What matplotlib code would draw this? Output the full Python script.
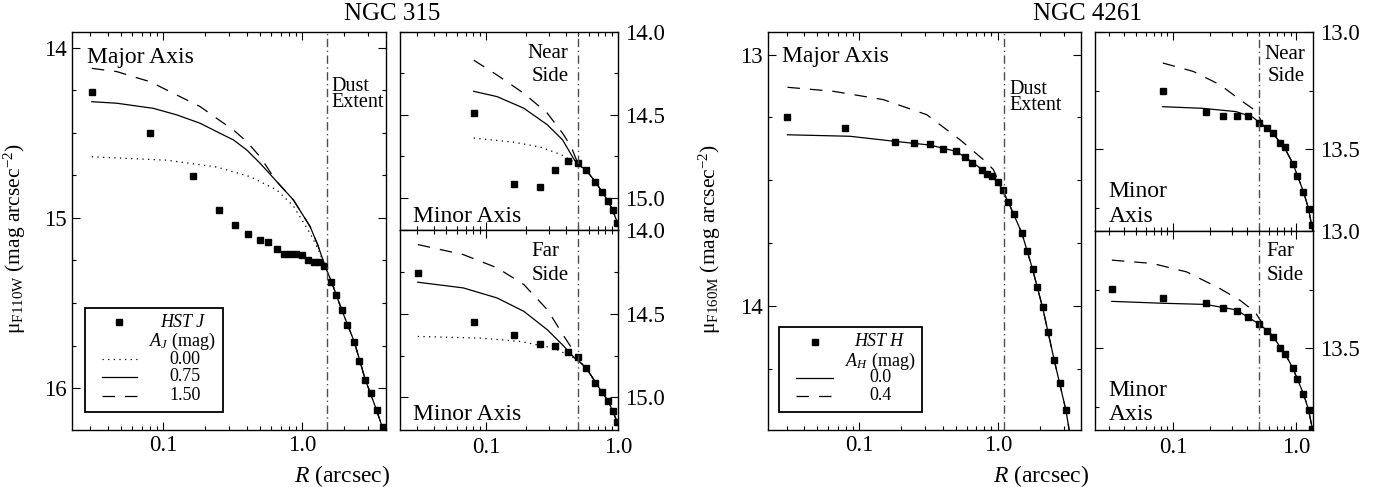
import numpy as np
import matplotlib
matplotlib.use('Agg')
import matplotlib.pyplot as plt
import matplotlib.ticker as mticker
from matplotlib.patches import Rectangle
from matplotlib.lines import Line2D

plt.rcParams['font.family'] = 'Liberation Serif'
plt.rcParams['mathtext.fontset'] = 'custom'
plt.rcParams['mathtext.rm'] = 'Liberation Serif'
plt.rcParams['mathtext.it'] = 'Liberation Serif:italic'
plt.rcParams['axes.linewidth'] = 1.0

# ---------------- NGC 315 ----------------
# major axis data (HST J)
r315_maj = [0.0307, 0.081, 0.163, 0.254, 0.331, 0.409, 0.497, 0.573, 0.664, 0.743, 0.820, 0.906,
            0.995, 1.11, 1.22, 1.32, 1.45, 1.62, 1.77, 1.93, 2.11, 2.38, 2.57, 2.85, 3.13, 3.44, 3.80]
mu315_maj = [14.26, 14.50, 14.753, 14.955, 15.043, 15.096, 15.13, 15.14, 15.185, 15.21, 15.21, 15.21,
             15.22, 15.25, 15.26, 15.26, 15.28, 15.375, 15.453, 15.543, 15.63, 15.73, 15.84, 15.95, 16.03, 16.13, 16.23]
# model curves, A_J = 0.00 / 0.75 / 1.50 (tail outside the dust is shared)
r315_tail = [1.62, 1.93, 2.38, 2.85, 3.44, 3.85]
mu315_tail = [15.37, 15.54, 15.73, 15.95, 16.13, 16.25]
r315_a000 = [0.0307, 0.106, 0.243, 0.423, 0.658, 0.867, 1.142, 1.30, 1.46]
mu315_a000 = [14.64, 14.66, 14.70, 14.757, 14.835, 14.93, 15.09, 15.18, 15.28]
r315_a075 = [0.0307, 0.0465, 0.085, 0.126, 0.185, 0.243, 0.321, 0.40, 0.499, 0.658, 0.867, 1.142, 1.30, 1.46]
mu315_a075 = [14.316, 14.325, 14.355, 14.394, 14.443, 14.492, 14.541, 14.60, 14.678, 14.786, 14.894, 15.05, 15.16, 15.28]
r315_a150 = [0.0307, 0.0465, 0.061, 0.0805, 0.106, 0.14, 0.185, 0.243, 0.321, 0.40, 0.499, 0.557, 0.62,
             0.658, 0.867, 1.142, 1.30, 1.46]
mu315_a150 = [14.12, 14.139, 14.169, 14.198, 14.247, 14.296, 14.345, 14.414, 14.482, 14.551, 14.64, 14.698, 14.757,
              14.786, 14.894, 15.05, 15.16, 15.28]

# minor axis, near side
r315_near = [0.0805, 0.162, 0.256, 0.333, 0.414, 0.494, 0.575, 0.675, 0.75, 0.839, 0.91, 0.984]
mu315_near = [14.49, 14.917, 14.933, 14.832, 14.778, 14.792, 14.832, 14.907, 14.966, 15.018, 15.075, 15.15]
r315_near_tail = [0.50, 0.575, 0.675, 0.75, 0.84, 0.91, 1.0]
mu315_near_tail = [14.80, 14.835, 14.905, 14.96, 15.02, 15.075, 15.16]
r315_near_a000 = [0.0805, 0.162, 0.259, 0.37, 0.466]
mu315_near_a000 = [14.64, 14.665, 14.695, 14.74, 14.786]
r315_near_a075 = [0.0805, 0.121, 0.193, 0.291, 0.379, 0.47]
mu315_near_a075 = [14.358, 14.39, 14.46, 14.56, 14.65, 14.776]
r315_near_a150 = [0.0805, 0.121, 0.193, 0.291, 0.379, 0.44]
mu315_near_a150 = [14.17, 14.26, 14.37, 14.49, 14.61, 14.69]

# minor axis, far side
r315_far = [0.0303, 0.0805, 0.162, 0.256, 0.333, 0.414, 0.494, 0.575, 0.675, 0.75, 0.839, 0.91, 0.984]
mu315_far = [14.256, 14.55, 14.628, 14.681, 14.692, 14.726, 14.76, 14.823, 14.915, 14.965, 15.02, 15.08, 15.15]
r315_far_tail = [0.50, 0.575, 0.675, 0.75, 0.84, 0.91, 1.0]
mu315_far_tail = [14.78, 14.825, 14.91, 14.965, 15.02, 15.08, 15.16]
r315_far_a000 = [0.0303, 0.09, 0.182, 0.327, 0.466]
mu315_far_a000 = [14.636, 14.646, 14.666, 14.706, 14.766]
r315_far_a075 = [0.0303, 0.067, 0.121, 0.193, 0.291, 0.39, 0.47]
mu315_far_a075 = [14.312, 14.346, 14.406, 14.486, 14.596, 14.696, 14.766]
r315_far_a150 = [0.0303, 0.067, 0.121, 0.193, 0.291, 0.39, 0.454]
mu315_far_a150 = [14.087, 14.147, 14.226, 14.326, 14.476, 14.636, 14.716]

# ---------------- NGC 4261 ----------------
r4261_maj = [0.0304, 0.0792, 0.180, 0.25, 0.324, 0.405, 0.50, 0.584, 0.655, 0.766, 0.832, 0.914, 1.0,
             1.087, 1.19, 1.30, 1.49, 1.62, 1.78, 1.93, 2.10, 2.30, 2.55, 2.83, 3.10]
mu4261_maj = [13.248, 13.292, 13.349, 13.353, 13.356, 13.376, 13.385, 13.406, 13.431, 13.458, 13.475, 13.485, 13.505,
              13.54, 13.587, 13.633, 13.71, 13.781, 13.854, 13.926, 14.005, 14.105, 14.215, 14.308, 14.416]
r4261_tail = [1.19, 1.49, 1.78, 2.10, 2.55, 3.10, 3.27]
mu4261_tail = [13.587, 13.71, 13.854, 14.005, 14.215, 14.416, 14.494]
r4261_a00 = [0.0304, 0.0857, 0.18, 0.324, 0.5, 0.655, 0.832, 1.0]
mu4261_a00 = [13.319, 13.325, 13.345, 13.36, 13.385, 13.428, 13.472, 13.505]
r4261_a04 = [0.0304, 0.065, 0.149, 0.307, 0.534, 0.787, 0.93, 1.0]
mu4261_a04 = [13.13, 13.146, 13.179, 13.239, 13.339, 13.418, 13.458, 13.50]

r4261_near = [0.0824, 0.1845, 0.2566, 0.333, 0.409, 0.503, 0.581, 0.654, 0.741, 0.818, 0.94, 1.025, 1.146, 1.26, 1.34]
mu4261_near = [13.25, 13.339, 13.359, 13.359, 13.359, 13.386, 13.41, 13.43, 13.472, 13.49, 13.56, 13.614, 13.68, 13.752, 13.82]
r4261_near_tail = [0.581, 0.654, 0.741, 0.818, 0.94, 1.025, 1.146, 1.26, 1.36]
mu4261_near_tail = [13.41, 13.435, 13.47, 13.50, 13.56, 13.612, 13.68, 13.752, 13.846]
r4261_near_a00 = [0.0825, 0.174, 0.325, 0.445, 0.503]
mu4261_near_a00 = [13.318, 13.325, 13.339, 13.363, 13.386]
r4261_near_a04 = [0.0825, 0.146, 0.241, 0.351, 0.479, 0.54]
mu4261_near_a04 = [13.132, 13.168, 13.225, 13.289, 13.339, 13.40]

r4261_far = [0.0318, 0.0824, 0.1845, 0.2566, 0.333, 0.409, 0.503, 0.581, 0.654, 0.741, 0.818, 0.94, 1.025, 1.146, 1.26, 1.34]
mu4261_far = [13.246, 13.285, 13.306, 13.327, 13.342, 13.366, 13.397, 13.424, 13.45, 13.498, 13.523, 13.584, 13.631, 13.692, 13.76, 13.84]
r4261_far_tail = [0.581, 0.654, 0.741, 0.818, 0.94, 1.025, 1.146, 1.26, 1.36]
mu4261_far_tail = [13.424, 13.45, 13.495, 13.525, 13.584, 13.631, 13.692, 13.76, 13.846]
r4261_far_a00 = [0.0318, 0.0825, 0.1845, 0.325, 0.503]
mu4261_far_a00 = [13.30, 13.308, 13.313, 13.336, 13.397]
r4261_far_a04 = [0.0318, 0.068, 0.129, 0.241, 0.351, 0.465, 0.54]
mu4261_far_a04 = [13.125, 13.139, 13.175, 13.246, 13.296, 13.346, 13.40]

dust = {'315_maj': 1.5, '315_min': 0.5, '4261_maj': 1.1, '4261_min': 0.5}

DOT = (0, (1, 3.5))
DASH = (0, (10, 8))
DUSTLS = (0, (6, 2.5, 1, 2.5))
LW = 0.9
LABEL_FS = 17     # "Major Axis" etc.
SIDE_FS = 15      # "Near Side", "Far Side"
DUST_FS = 14.5
LEG_FS = 13

W, H = 1382, 487
fig = plt.figure(figsize=(W / 100, H / 100), dpi=100)


def add_ax(x0, y0, x1, y1):
    # pixel box (y from top) -> figure fraction
    return fig.add_axes([x0 / W, 1 - y1 / H, (x1 - x0) / W, (y1 - y0) / H])


def setup(ax, xlim, ylim, ymaj, ymin, yfmt, right=False, xlabels=True):
    ax.set_xscale('log')
    ax.set_xlim(*xlim)
    ax.set_ylim(*ylim)
    ax.xaxis.set_major_locator(mticker.LogLocator(base=10))
    ax.xaxis.set_minor_locator(mticker.LogLocator(base=10, subs=np.arange(2, 10)))
    ax.xaxis.set_major_formatter(mticker.FuncFormatter(lambda v, p: '%.1f' % v))
    ax.xaxis.set_minor_formatter(mticker.NullFormatter())
    ax.yaxis.set_major_locator(mticker.MultipleLocator(ymaj))
    ax.yaxis.set_minor_locator(mticker.MultipleLocator(ymin))
    ax.yaxis.set_major_formatter(mticker.FormatStrFormatter(yfmt))
    ax.tick_params(which='both', direction='in', top=True, bottom=True, left=True, right=True,
                   labelsize=16.5, width=0.8)
    ax.tick_params(which='major', length=6)
    ax.tick_params(which='minor', length=3)
    if right:
        ax.tick_params(labelleft=False, labelright=True, pad=5)
    if not xlabels:
        ax.tick_params(labelbottom=False)


def curve(ax, r, mu, r_tail, mu_tail, ls):
    ax.plot(list(r) + list(r_tail), list(mu) + list(mu_tail), color='k', lw=LW, ls=ls)


def two_lines(ax, x, y1, y2, s1, s2, ha='left', size=LABEL_FS):
    ax.text(x, y1, s1, transform=ax.transAxes, ha=ha, va='baseline', fontsize=size)
    ax.text(x, y2, s2, transform=ax.transAxes, ha=ha, va='baseline', fontsize=size)


# ---------- NGC 315 major ----------
a1 = add_ax(72, 32, 386, 430)
setup(a1, (0.0221, 4.02), (16.247, 13.906), 1, 0.25, '%d')
a1.plot(r315_maj, mu315_maj, 's', color='k', ms=4.6)
curve(a1, r315_a000, mu315_a000, r315_tail, mu315_tail, DOT)
curve(a1, r315_a075, mu315_a075, r315_tail, mu315_tail, '-')
curve(a1, r315_a150, mu315_a150, r315_tail, mu315_tail, DASH)
a1.axvline(dust['315_maj'], color='0.3', lw=1, ls=DUSTLS)
a1.text(0.047, 0.923, 'Major Axis', transform=a1.transAxes, fontsize=LABEL_FS, va='baseline')
two_lines(a1, 0.827, 0.852, 0.811, 'Dust', 'Extent', size=DUST_FS)
a1.set_ylabel('μ$_{\\mathrm{F110W}}$ (mag arcsec$^{-2}$)', fontsize=15.5)
a1.yaxis.set_label_coords(-0.14, 0.48)

# legend box
a1.add_patch(Rectangle((0.041, 0.0445), 0.439, 0.2615, transform=a1.transAxes,
                       fill=True, facecolor='white', edgecolor='k', lw=1.3, zorder=5))
a1.add_line(Line2D([0.150], [0.271], transform=a1.transAxes, marker='s', color='k', ms=4.6, ls='none', zorder=6))
a1.text(0.35, 0.271, 'HST J', transform=a1.transAxes, fontsize=LEG_FS, style='italic', ha='center', va='center', zorder=6)
a1.text(0.35, 0.222, '$A_J$ (mag)', transform=a1.transAxes, fontsize=LEG_FS, ha='center', va='center', zorder=6)
for yy, ls, lab in [(0.178, DOT, '0.00'), (0.134, '-', '0.75'), (0.086, DASH, '1.50')]:
    a1.add_line(Line2D([0.0946, 0.206], [yy, yy], transform=a1.transAxes, color='k', lw=LW, ls=ls, zorder=6))
    a1.text(0.36, yy, lab, transform=a1.transAxes, fontsize=LEG_FS, ha='center', va='center', zorder=6)

# ---------- NGC 315 minor, near side ----------
a2 = add_ax(400, 32, 618, 230)
setup(a2, (0.0222, 1.0), (15.195, 14.0), 0.5, 0.25, '%.1f', right=True, xlabels=False)
a2.plot(r315_near, mu315_near, 's', color='k', ms=4.6)
curve(a2, r315_near_a000, mu315_near_a000, r315_near_tail, mu315_near_tail, DOT)
curve(a2, r315_near_a075, mu315_near_a075, r315_near_tail, mu315_near_tail, '-')
curve(a2, r315_near_a150, mu315_near_a150, r315_near_tail, mu315_near_tail, DASH)
a2.axvline(dust['315_min'], color='0.3', lw=1, ls=DUSTLS)
two_lines(a2, 0.772, 0.867, 0.753, 'Near', 'Side', ha='right', size=SIDE_FS)
a2.text(0.061, 0.042, 'Minor Axis', transform=a2.transAxes, fontsize=LABEL_FS, va='baseline')

# ---------- NGC 315 minor, far side ----------
a3 = add_ax(400, 230, 618, 430)
setup(a3, (0.0222, 1.0), (15.195, 14.0), 0.5, 0.25, '%.1f', right=True)
a3.plot(r315_far, mu315_far, 's', color='k', ms=4.6)
curve(a3, r315_far_a000, mu315_far_a000, r315_far_tail, mu315_far_tail, DOT)
curve(a3, r315_far_a075, mu315_far_a075, r315_far_tail, mu315_far_tail, '-')
curve(a3, r315_far_a150, mu315_far_a150, r315_far_tail, mu315_far_tail, DASH)
a3.axvline(dust['315_min'], color='0.3', lw=1, ls=DUSTLS)
two_lines(a3, 0.604, 0.87, 0.75, 'Far', 'Side', size=SIDE_FS)
a3.text(0.061, 0.05, 'Minor Axis', transform=a3.transAxes, fontsize=LABEL_FS, va='baseline')

# ---------- NGC 4261 major ----------
b1 = add_ax(768, 32, 1081, 430)
setup(b1, (0.022, 3.98), (14.494, 12.91), 1, 0.25, '%d')
b1.plot(r4261_maj, mu4261_maj, 's', color='k', ms=4.6)
curve(b1, r4261_a00, mu4261_a00, r4261_tail, mu4261_tail, '-')
curve(b1, r4261_a04, mu4261_a04, r4261_tail, mu4261_tail, DASH)
b1.axvline(dust['4261_maj'], color='0.3', lw=1, ls=DUSTLS)
b1.text(0.046, 0.925, 'Major Axis', transform=b1.transAxes, fontsize=LABEL_FS, va='baseline')
two_lines(b1, 0.772, 0.845, 0.803, 'Dust', 'Extent', size=DUST_FS)
b1.set_ylabel('μ$_{\\mathrm{F160M}}$ (mag arcsec$^{-2}$)', fontsize=15.5)
b1.yaxis.set_label_coords(-0.145, 0.48)

b1.add_patch(Rectangle((0.035, 0.046), 0.458, 0.214, transform=b1.transAxes,
                       fill=True, facecolor='white', edgecolor='k', lw=1.3, zorder=5))
b1.add_line(Line2D([0.151], [0.222], transform=b1.transAxes, marker='s', color='k', ms=4.6, ls='none', zorder=6))
b1.text(0.355, 0.222, 'HST H', transform=b1.transAxes, fontsize=LEG_FS, style='italic', ha='center', va='center', zorder=6)
b1.text(0.357, 0.172, '$A_H$ (mag)', transform=b1.transAxes, fontsize=LEG_FS, ha='center', va='center', zorder=6)
for yy, ls, lab in [(0.131, '-', '0.0'), (0.086, DASH, '0.4')]:
    b1.add_line(Line2D([0.091, 0.208], [yy, yy], transform=b1.transAxes, color='k', lw=LW, ls=ls, zorder=6))
    b1.text(0.36, yy, lab, transform=b1.transAxes, fontsize=LEG_FS, ha='center', va='center', zorder=6)

# ---------- NGC 4261 minor, near side ----------
b2 = add_ax(1095, 32, 1313, 230.7)
setup(b2, (0.0232, 1.37), (13.846, 13.0), 0.5, 0.25, '%.1f', right=True, xlabels=False)
b2.plot(r4261_near, mu4261_near, 's', color='k', ms=4.6)
curve(b2, r4261_near_a00, mu4261_near_a00, r4261_near_tail, mu4261_near_tail, '-')
curve(b2, r4261_near_a04, mu4261_near_a04, r4261_near_tail, mu4261_near_tail, DASH)
b2.axvline(dust['4261_min'], color='0.3', lw=1, ls=DUSTLS)
two_lines(b2, 0.963, 0.864, 0.755, 'Near', 'Side', ha='right', size=SIDE_FS)
two_lines(b2, 0.061, 0.168, 0.045, 'Minor', 'Axis')

# ---------- NGC 4261 minor, far side ----------
b3 = add_ax(1095, 230.7, 1313, 430)
setup(b3, (0.0232, 1.37), (13.846, 13.0), 0.5, 0.25, '%.1f', right=True)
b3.plot(r4261_far, mu4261_far, 's', color='k', ms=4.6)
curve(b3, r4261_far_a00, mu4261_far_a00, r4261_far_tail, mu4261_far_tail, '-')
curve(b3, r4261_far_a04, mu4261_far_a04, r4261_far_tail, mu4261_far_tail, DASH)
b3.axvline(dust['4261_min'], color='0.3', lw=1, ls=DUSTLS)
two_lines(b3, 0.788, 0.873, 0.753, 'Far', 'Side', size=SIDE_FS)
two_lines(b3, 0.061, 0.172, 0.05, 'Minor', 'Axis')

# titles and shared x labels
fig.text(392 / W, 1 - 14 / H, 'NGC 315', ha='center', va='center', fontsize=18)
fig.text(1087 / W, 1 - 14 / H, 'NGC 4261', ha='center', va='center', fontsize=18)
fig.text(342 / W, 1 - 476 / H, '$R$ (arcsec)', ha='center', va='center', fontsize=17)
fig.text(1041 / W, 1 - 476 / H, '$R$ (arcsec)', ha='center', va='center', fontsize=17)

fig.savefig('out.png', dpi=100)
